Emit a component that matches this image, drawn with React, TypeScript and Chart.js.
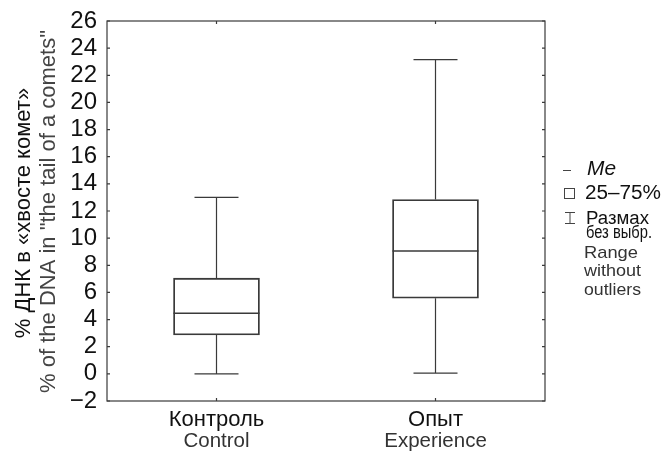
import React, { useEffect, useRef } from "react";
import { Chart, registerables } from "chart.js";

Chart.register(...registerables);

// ---- data ----
const categories = ["Контроль", "Опыт"];
const categoriesEn = ["Control", "Experience"];
const whiskerMin = [0, 0.05];
const quartile1 = [2.87, 5.57];
const medians = [4.47, 9.06];
const quartile3 = [7.05, 12.85];
const whiskerMax = [13.0, 23.15];
const yMin = -2;
const yMax = 26;
const yStep = 2;
const yTitleRu = "% ДНК в «хвосте комет»";
const yTitleEn = '% of the DNA in "the tail of a comets"';
const legendMe = "Me";
const legendBox = "25–75%";
const legendRangeRu = ["Размах", "без выбр."];
const legendRangeEn = ["Range", "without", "outliers"];

const FONT = "'Liberation Sans', Arial, sans-serif";
const LINE = "#3a3a3a";
const W = 654;
const H = 445;

function fitText(ctx: any, text: string, x: number, y: number, width: number) {
  const m = ctx.measureText(text).width;
  ctx.save();
  ctx.translate(x, y);
  ctx.scale(width / m, 1);
  ctx.fillText(text, 0, 0);
  ctx.restore();
}

const boxPlugin = {
  id: "boxExtras",
  afterDatasetsDraw(chart: any) {
    const ctx = chart.ctx;
    const xs = chart.scales.x;
    const ys = chart.scales.y;
    ctx.save();
    ctx.strokeStyle = LINE;
    ctx.lineWidth = 1.2;
    const boxHalf = 43;
    const capHalf = 22;
    for (let i = 0; i < categories.length; i++) {
      const cx = xs.getPixelForValue(i);
      const yMaxP = ys.getPixelForValue(whiskerMax[i]);
      const yMinP = ys.getPixelForValue(whiskerMin[i]);
      const yQ1 = ys.getPixelForValue(quartile1[i]);
      const yQ3 = ys.getPixelForValue(quartile3[i]);
      const yMed = ys.getPixelForValue(medians[i]);
      ctx.beginPath();
      ctx.moveTo(cx, yQ3);
      ctx.lineTo(cx, yMaxP);
      ctx.moveTo(cx - capHalf, yMaxP);
      ctx.lineTo(cx + capHalf, yMaxP);
      ctx.moveTo(cx, yQ1);
      ctx.lineTo(cx, yMinP);
      ctx.moveTo(cx - capHalf, yMinP);
      ctx.lineTo(cx + capHalf, yMinP);
      ctx.stroke();
      ctx.beginPath();
      ctx.lineWidth = 1.5;
      ctx.moveTo(cx - boxHalf, yMed);
      ctx.lineTo(cx + boxHalf, yMed);
      ctx.stroke();
      ctx.lineWidth = 1.2;
    }
    ctx.restore();
  },
  afterDraw(chart: any) {
    const ctx = chart.ctx;
    const a = chart.chartArea;
    const xs = chart.scales.x;
    const ys = chart.scales.y;
    ctx.save();
    // frame
    ctx.strokeStyle = LINE;
    ctx.lineWidth = 1.2;
    ctx.strokeRect(a.left, a.top, a.right - a.left, a.bottom - a.top);
    // inward ticks
    ctx.beginPath();
    for (let v = yMin; v <= yMax; v += yStep) {
      const y = ys.getPixelForValue(v);
      ctx.moveTo(a.left, y);
      ctx.lineTo(a.left + 3, y);
      ctx.moveTo(a.right, y);
      ctx.lineTo(a.right - 3, y);
    }
    for (let i = 0; i < categories.length; i++) {
      const x = xs.getPixelForValue(i);
      ctx.moveTo(x, a.bottom);
      ctx.lineTo(x, a.bottom - 3);
      ctx.moveTo(x, a.top);
      ctx.lineTo(x, a.top + 3);
    }
    ctx.stroke();

    // x category labels
    ctx.textAlign = "center";
    ctx.textBaseline = "alphabetic";
    for (let i = 0; i < categories.length; i++) {
      const x = xs.getPixelForValue(i);
      ctx.fillStyle = "#111";
      ctx.font = `22px ${FONT}`;
      ctx.fillText(categories[i], x, 418);
      ctx.fillStyle = "#333";
      ctx.font = `20.5px ${FONT}`;
      ctx.fillText(categoriesEn[i], x, 438.5);
    }

    // y titles
    const mid = (a.top + a.bottom) / 2;
    ctx.save();
    ctx.translate(22, mid + 2);
    ctx.rotate(-Math.PI / 2);
    ctx.fillStyle = "#111";
    ctx.font = `22px ${FONT}`;
    ctx.fillText(yTitleRu, 0, 0);
    ctx.restore();
    ctx.save();
    ctx.translate(47, mid + 0.5);
    ctx.rotate(-Math.PI / 2);
    ctx.fillStyle = "#444";
    ctx.font = `22px ${FONT}`;
    ctx.fillText(yTitleEn, 0, 0);
    ctx.restore();

    // legend
    ctx.textAlign = "left";
    ctx.strokeStyle = "#444";
    ctx.lineWidth = 1;
    ctx.beginPath();
    ctx.moveTo(555, 162.5);
    ctx.lineTo(563, 162.5);
    ctx.stroke();
    ctx.strokeRect(556.5, 180.5, 10, 10);
    ctx.beginPath();
    ctx.moveTo(557, 204.5);
    ctx.lineTo(567, 204.5);
    ctx.moveTo(562, 204.5);
    ctx.lineTo(562, 215.5);
    ctx.moveTo(557, 215.5);
    ctx.lineTo(567, 215.5);
    ctx.stroke();

    ctx.fillStyle = "#111";
    ctx.font = `italic 20px ${FONT}`;
    fitText(ctx, legendMe, 579, 167, 29);
    ctx.font = `20px ${FONT}`;
    fitText(ctx, legendBox, 577, 191, 76);
    ctx.font = `18px ${FONT}`;
    fitText(ctx, legendRangeRu[0], 578, 215.5, 63);
    ctx.font = `17.5px ${FONT}`;
    fitText(ctx, legendRangeRu[1], 578, 230, 66);
    ctx.fillStyle = "#333";
    ctx.font = `17px ${FONT}`;
    const enBase = [250.3, 268, 286.5];
    const enW = [54, 57, 57];
    legendRangeEn.forEach((t, i) => fitText(ctx, t, 576, enBase[i], enW[i]));
    ctx.restore();
  },
};

export default function App() {
  const ref = useRef<HTMLCanvasElement>(null);
  useEffect(() => {
    if (!ref.current) return;
    const chart = new Chart(ref.current, {
      type: "bar",
      data: {
        labels: categories,
        datasets: [
          {
            data: quartile1.map((v, i) => [v, quartile3[i]]) as any,
            backgroundColor: "rgba(0,0,0,0)",
            borderColor: LINE,
            borderWidth: 1.2,
            borderSkipped: false,
            barThickness: 86,
          },
        ],
      },
      options: {
        responsive: false,
        animation: false,
        layout: { padding: { left: 0, right: 117, top: 13, bottom: 52 } },
        plugins: { legend: { display: false }, tooltip: { enabled: false } },
        scales: {
          x: { type: "category", display: false, offset: true },
          y: {
            type: "linear",
            min: yMin,
            max: yMax,
            ticks: {
              stepSize: yStep,
              padding: 10,
              color: "#111",
              font: { family: FONT, size: 24, lineHeight: 1 },
              callback: (v: any) => String(v).replace("-", "−"),
            },
            grid: { display: false, drawTicks: false },
            border: { display: false },
            afterFit: (s: any) => {
              s.width = 99;
              s.paddingTop = 0;
              s.paddingBottom = 0;
            },
          },
        },
      },
      plugins: [boxPlugin],
    });
    return () => chart.destroy();
  }, []);
  return <canvas ref={ref} width={W} height={H} style={{ display: "block" }} />;
}
